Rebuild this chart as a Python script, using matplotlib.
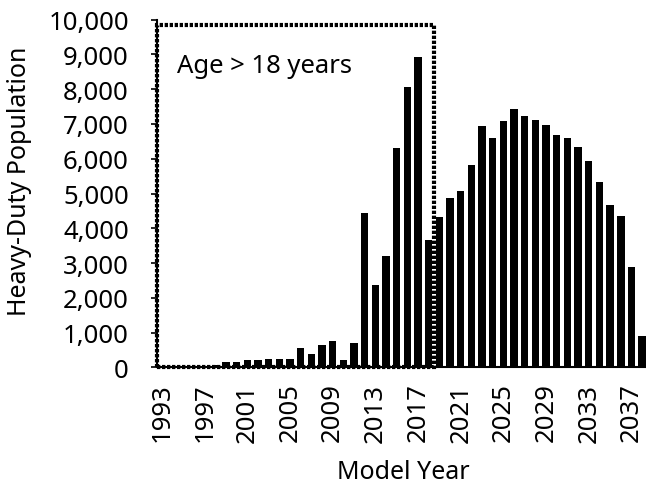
import matplotlib.pyplot as plt
from matplotlib.patches import Rectangle

# model years and heavy-duty population
years = list(range(1993, 2039))
population = [20, 20, 30, 30, 40, 60, 140, 160, 210, 210,
              240, 230, 240, 550, 390, 630, 770, 200, 700, 4450,
              2370, 3200, 6300, 8070, 8930, 3670, 4310, 4880, 5080, 5810,
              6950, 6610, 7090, 7430, 7220, 7120, 6980, 6690, 6600, 6350,
              5930, 5340, 4670, 4350, 2890, 890]
tick_years = years[::4]
box_end_year = 2018
box_top = 9850
note = "Age > 18 years"

plt.rcParams['font.family'] = ['Noto Sans', 'DejaVu Sans']

def main():
    fig = plt.figure(figsize=(6.46, 4.89), dpi=100)
    ax = fig.add_axes([156.7 / 646, 120.7 / 489, 490.8 / 646, 347.6 / 489])

    ax.bar(years, population, width=0.69, color="black", zorder=2)

    # dotted box around the older model years
    box = Rectangle((years[0] - 0.5, 0), box_end_year + 0.5 - (years[0] - 0.5), box_top,
                    fill=False, edgecolor="black", linewidth=3.0,
                    linestyle=(0, (0.8, 0.4)), zorder=3, clip_on=False)
    ax.add_patch(box)
    ax.text(1994.4, 8670, note, fontsize=18.5, va="center", ha="left")

    ax.set_xlim(years[0] - 0.5, years[-1] + 0.5)
    ax.set_ylim(0, 10000)
    ax.set_xticks(tick_years)
    ax.set_xticklabels([str(y) for y in tick_years], rotation=90, fontsize=18.5)
    ax.set_yticks(range(0, 10001, 1000))
    ax.set_yticklabels([f"{v:,}" for v in range(0, 10001, 1000)], fontsize=18.5)
    ax.tick_params(axis="x", length=0, pad=11)
    ax.tick_params(axis="y", length=4, width=1.2, direction="out", pad=16)

    ax.spines["top"].set_visible(False)
    ax.spines["right"].set_visible(False)
    ax.spines["left"].set_linewidth(1.5)
    ax.spines["bottom"].set_linewidth(1.5)

    fig.text(403 / 646, 1 - 473 / 489, "Model Year", fontsize=18, ha="center", va="center")
    fig.text(20 / 646, 1 - 181 / 489, "Heavy-Duty Population", fontsize=18,
             ha="center", va="center", rotation=90)

    fig.savefig("out.png", dpi=100)

if __name__ == '__main__':
    main()
